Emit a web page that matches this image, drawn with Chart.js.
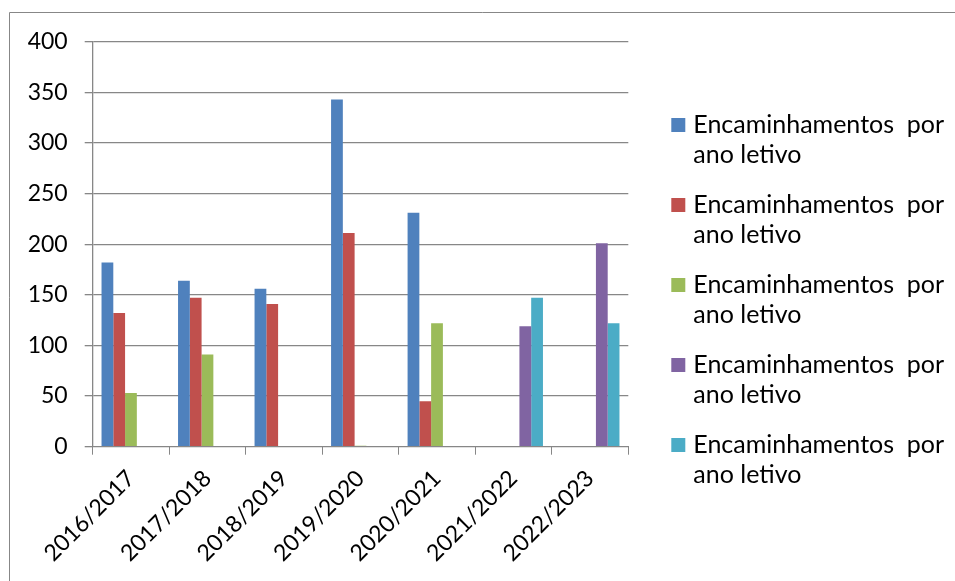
<!DOCTYPE html>
<html>
<head>
<meta charset="utf-8">
<script src="https://cdn.jsdelivr.net/npm/chart.js@4/dist/chart.umd.min.js"></script>
<style>
  html, body { margin: 0; padding: 0; background: #fff; }
  #wrap { position: relative; width: 955px; height: 581px; }
</style>
</head>
<body>
<div id="wrap"><canvas id="c" width="955" height="581"></canvas></div>
<script>
const categories = ["2016/2017", "2017/2018", "2018/2019", "2019/2020", "2020/2021", "2021/2022", "2022/2023"];
const seriesNames = [
  "Encaminhamentos  por ano letivo",
  "Encaminhamentos  por ano letivo",
  "Encaminhamentos  por ano letivo",
  "Encaminhamentos  por ano letivo",
  "Encaminhamentos  por ano letivo"
];
const series1 = [182, 164, 156, 343, 231, null, null];
const series2 = [132, 147, 141, 211, 45, null, null];
const series3 = [53, 91, null, 1, 122, null, null];
const series4 = [null, null, null, null, null, 119, 201];
const series5 = [null, null, null, null, null, 147, 122];
const yTicks = [0, 50, 100, 150, 200, 250, 300, 350, 400];

const colors = ["#4F81BD", "#C0504D", "#9BBB59", "#8064A2", "#4BACC6"];
const allSeries = [series1, series2, series3, series4, series5];
const FONT = "Lato, 'Open Sans', sans-serif";
const GRID = "#878787";

const frame = {
  id: "frame",
  beforeDraw(chart) {
    const ctx = chart.ctx;
    ctx.save();
    ctx.fillStyle = "#fff";
    ctx.fillRect(0, 0, chart.width, chart.height);
    ctx.strokeStyle = GRID;
    ctx.lineWidth = 1;
    ctx.beginPath();
    ctx.moveTo(9.5, chart.height + 5);
    ctx.lineTo(9.5, 12.5);
    ctx.lineTo(chart.width + 5, 12.5);
    ctx.stroke();
    ctx.restore();
  }
};

function wrap(ctx, text, maxW) {
  const words = text.split(" ");
  const lines = [];
  let cur = "";
  for (let i = 0; i < words.length; i++) {
    const w = words[i];
    const trial = cur === "" ? w : cur + " " + w;
    if (w !== "" && cur !== "" && ctx.measureText(trial).width > maxW) {
      lines.push(cur.trimEnd());
      cur = w;
    } else {
      cur = trial;
    }
  }
  if (cur) lines.push(cur);
  return lines;
}

const sideLegend = {
  id: "sideLegend",
  afterDraw(chart) {
    const ctx = chart.ctx;
    const area = chart.chartArea;
    ctx.save();
    ctx.font = "25px " + FONT;
    ctx.textBaseline = "middle";
    ctx.textAlign = "left";
    const boxX = area.right + 43;
    const textX = area.right + 65;
    let y = 125;
    chart.data.datasets.forEach((ds) => {
      ctx.fillStyle = ds.backgroundColor;
      ctx.fillRect(boxX, y - 7, 14, 14);
      ctx.fillStyle = "#000";
      const lines = wrap(ctx, ds.label, 262);
      lines.forEach((ln, i) => ctx.fillText(ln, textX, y + i * 30));
      y += 80;
    });
    ctx.restore();
  }
};

new Chart(document.getElementById("c"), {
  type: "bar",
  data: {
    labels: categories,
    datasets: allSeries.map((d, i) => ({
      label: seriesNames[i],
      data: d,
      backgroundColor: colors[i],
      borderWidth: 0,
      barPercentage: 1,
      categoryPercentage: 5 / 6.5
    }))
  },
  options: {
    responsive: false,
    animation: false,
    devicePixelRatio: 1,
    layout: { padding: { left: 0, right: 326.7, top: 41.7, bottom: 0 } },
    plugins: { legend: { display: false }, tooltip: { enabled: false } },
    scales: {
      x: {
        grid: { display: true, offset: true, drawOnChartArea: false, drawTicks: true, tickLength: 8, color: GRID, lineWidth: 1 },
        border: { display: true, color: GRID, width: 1 },
        ticks: {
          color: "#000",
          font: { family: FONT, size: 23 },
          maxRotation: 45, minRotation: 45,
          autoSkip: false,
          padding: 10
        },
        afterFit(scale) { scale.height = 581 - 446.7; }
      },
      y: {
        min: 0, max: 400,
        afterBuildTicks(scale) { scale.ticks = yTicks.map(v => ({ value: v })); },
        grid: { color: GRID, lineWidth: 1.3, drawTicks: true, tickLength: 8 },
        border: { display: true, color: GRID, width: 1.3 },
        ticks: {
          color: "#000",
          font: { family: FONT, size: 23 },
          padding: 17
        },
        afterFit(scale) { scale.width = 92.7; }
      }
    }
  },
  plugins: [frame, sideLegend]
});
</script>
</body>
</html>
